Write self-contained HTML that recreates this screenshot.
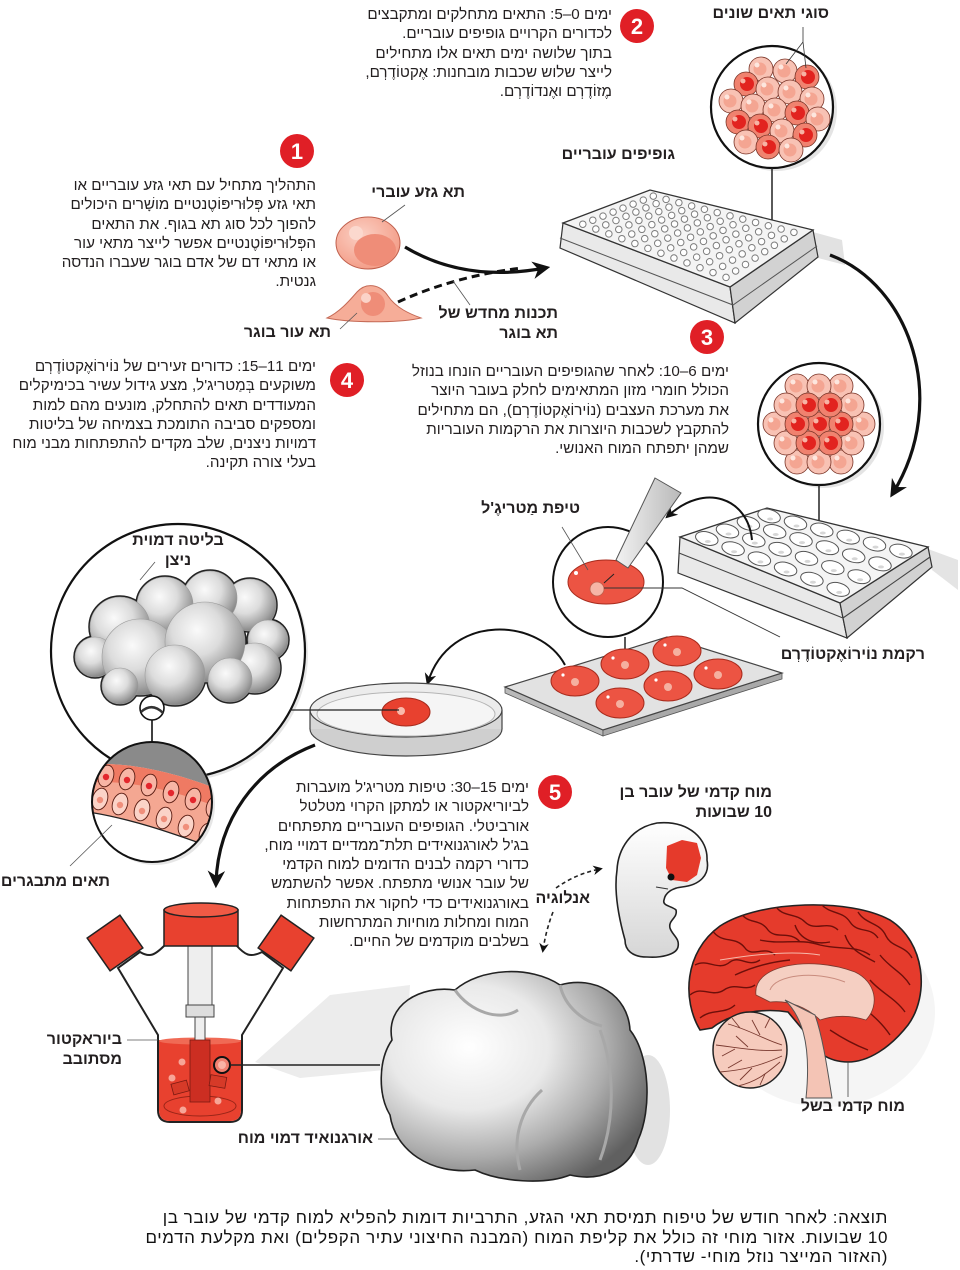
<!DOCTYPE html>
<html><head><meta charset="utf-8">
<style>
html,body{margin:0;padding:0;background:#fff}
#c{position:relative;width:960px;height:1270px;overflow:hidden;background:#fff}
svg{position:absolute;left:0;top:0}
.t{position:absolute;direction:rtl;text-align:right;white-space:nowrap;font-family:"Liberation Sans","DejaVu Sans",sans-serif;font-size:15.2px;line-height:19.3px;color:#231f20}
.l{position:absolute;direction:rtl;text-align:right;white-space:nowrap;font-family:"Liberation Sans","DejaVu Sans",sans-serif;font-size:16px;line-height:20px;font-weight:bold;color:#231f20}
</style></head><body><div id="c">
<svg width="960" height="1270" viewBox="0 0 960 1270" xmlns="http://www.w3.org/2000/svg">
<defs>
<marker id="ah" viewBox="0 0 10 10" refX="7" refY="5" markerWidth="5.5" markerHeight="5.5" orient="auto"><path d="M0,0 L10,5 L0,10 L3,5 Z" fill="#111"/></marker>
<marker id="ahs" viewBox="0 0 10 10" refX="7" refY="5" markerWidth="6" markerHeight="6" orient="auto"><path d="M0,0 L10,5 L0,10 L3,5 Z" fill="#111"/></marker>
<radialGradient id="gb" cx="40%" cy="35%" r="70%"><stop offset="0" stop-color="#fafafa"/><stop offset="0.45" stop-color="#dcdcdc"/><stop offset="0.8" stop-color="#a2a2a2"/><stop offset="1" stop-color="#7a7a7a"/></radialGradient>
<radialGradient id="go" cx="33%" cy="36%" r="75%"><stop offset="0" stop-color="#ffffff"/><stop offset="0.4" stop-color="#e9e9e9"/><stop offset="0.7" stop-color="#acacac"/><stop offset="1" stop-color="#606060"/></radialGradient>
<radialGradient id="gs" cx="40%" cy="35%" r="70%"><stop offset="0" stop-color="#fbd0c4"/><stop offset="1" stop-color="#f39a84"/></radialGradient>
<linearGradient id="gf" x1="0" y1="0" x2="0" y2="1"><stop offset="0" stop-color="#ffffff"/><stop offset="1" stop-color="#d6d6d6"/></linearGradient>
<linearGradient id="gpip" x1="0" y1="0" x2="1" y2="0"><stop offset="0" stop-color="#f2f2f2"/><stop offset="1" stop-color="#b9b9b9"/></linearGradient>
<g id="cp"><circle r="12" fill="#f8c2b4" stroke="#7a3427" stroke-width="0.8"/><circle cx="-1" cy="0" r="6.5" fill="#f4a592"/><circle cx="-4" cy="-4" r="2.5" fill="#fde6de"/></g>
<g id="cr"><circle r="12" fill="#f0826f" stroke="#7a3427" stroke-width="0.8"/><circle cx="1" cy="0" r="7" fill="#e2231f"/><circle cx="-3" cy="-3" r="2.5" fill="#f7b3a4"/></g>
<g id="w24"><ellipse rx="11.5" ry="6.5" transform="rotate(15)" fill="#fff" stroke="#555" stroke-width="1"/><ellipse cx="1" cy="3" rx="3" ry="1.5" fill="#d6d6d6"/></g>
<g id="disc"><ellipse rx="24" ry="15" fill="#ec5443" stroke="#a82b1d" stroke-width="1"/><circle cx="0" cy="1" r="4" fill="#f5b0a0"/><circle cx="-12" cy="-6" r="1.6" fill="#fff"/></g>
<clipPath id="mag"><circle cx="152" cy="802" r="60"/></clipPath>
<clipPath id="cort"><path d="M700 1030 C682 1000,684 952,720 926 C760 900,850 898,890 920 C925 942,930 995,908 1025 C890 1048,868 1062,848 1062 C828 1062,812 1050,808 1036 L788 1012 C765 1008,732 1012,712 1028 Z"/></clipPath>
</defs>

<!-- step circles -->
<g font-family="Liberation Sans, DejaVu Sans, sans-serif" font-weight="bold" font-size="22" fill="#fff" text-anchor="middle">
<circle cx="297" cy="151" r="17" fill="#e01f26"/><text x="297" y="159">1</text>
<circle cx="637" cy="26" r="17" fill="#e01f26"/><text x="637" y="34">2</text>
<circle cx="707" cy="337" r="17" fill="#e01f26"/><text x="707" y="345">3</text>
<circle cx="347" cy="380" r="17" fill="#e01f26"/><text x="347" y="388">4</text>
<circle cx="555" cy="792" r="17" fill="#e01f26"/><text x="555" y="800">5</text>
</g>

<!-- stem cell -->
<ellipse cx="368" cy="243" rx="32" ry="26" fill="url(#gs)" stroke="#c0604d" stroke-width="1"/>
<ellipse cx="375" cy="250" rx="21" ry="16" fill="#ef8d78"/>
<circle cx="356" cy="233" r="7" fill="#fbd8ce"/>
<line x1="405" y1="205" x2="382" y2="222" stroke="#555" stroke-width="0.8"/>
<!-- skin cell -->
<path d="M327 318 C340 312,350 300,357 292 C366 282,380 284,388 296 C396 308,410 314,421 318 C400 323,350 323,327 318 Z" fill="#f6ad98" stroke="#c56a56" stroke-width="1"/>
<circle cx="373" cy="304" r="12" fill="#ef8d78"/>
<circle cx="366" cy="298" r="5" fill="#fbd3c8"/>
<line x1="340" y1="329" x2="357" y2="313" stroke="#555" stroke-width="0.8"/>
<!-- arrows stem -> plate -->
<path d="M405 247 Q465 283 545 268" fill="none" stroke="#111" stroke-width="3.2" marker-end="url(#ah)"/>
<path d="M398 302 Q455 276 522 268" fill="none" stroke="#111" stroke-width="3" stroke-dasharray="8 5"/>
<line x1="470" y1="305" x2="453" y2="281" stroke="#555" stroke-width="0.8"/>

<!-- circle of cells 1 -->
<circle cx="776" cy="110" r="61" fill="#e4e4e4"/>
<circle cx="772" cy="107" r="61" fill="#fff" stroke="#111" stroke-width="2.2"/>
<use href="#cp" x="761" y="69"/><use href="#cp" x="785" y="71"/><use href="#cr" x="807" y="77"/>
<use href="#cr" x="746" y="84"/><use href="#cp" x="768" y="89"/><use href="#cp" x="790" y="92"/><use href="#cp" x="812" y="99"/>
<use href="#cp" x="731" y="101"/><use href="#cp" x="753" y="106"/><use href="#cp" x="775" y="110"/><use href="#cr" x="797" y="113"/><use href="#cp" x="818" y="119"/>
<use href="#cr" x="738" y="122"/><use href="#cr" x="760" y="126"/><use href="#cp" x="782" y="131"/><use href="#cr" x="805" y="135"/>
<use href="#cp" x="746" y="142"/><use href="#cr" x="768" y="147"/><use href="#cp" x="791" y="150"/>
<path d="M803 27 L803 42 L786 64 M803 42 L806 68" fill="none" stroke="#333" stroke-width="0.8"/>
<line x1="772" y1="168" x2="772" y2="222" stroke="#222" stroke-width="1.5"/>

<!-- 96 well plate -->
<polygon points="813,232 842,240 845,265 818,258" fill="#e2e2e2"/>
<polygon points="563,223 730,287 735,323 560,248" fill="#e9e9e9" stroke="#333" stroke-width="1.2"/>
<polygon points="730,287 813,230 818,257 735,323" fill="#d2d2d2" stroke="#333" stroke-width="1.2"/>
<polyline points="560,238 733,305 817,246" fill="none" stroke="#555" stroke-width="1"/>
<polygon points="563,223 650,190 813,230 730,287" fill="#f4f4f4" stroke="#333" stroke-width="1.3"/>
<g fill="none" stroke-linecap="round" stroke="#7d7d7d" stroke-width="7.5">
<path d="M582.8 224.2 L726.3 277.5" stroke-dasharray="0 13.89"/>
<path d="M592.8 220.2 L736.0 271.1" stroke-dasharray="0 13.78"/>
<path d="M603.0 216.1 L745.8 264.6" stroke-dasharray="0 13.68"/>
<path d="M613.1 212.1 L755.4 258.2" stroke-dasharray="0 13.57"/>
<path d="M623.0 208.1 L765.1 251.8" stroke-dasharray="0 13.48"/>
<path d="M633.1 204.1 L774.7 245.4" stroke-dasharray="0 13.38"/>
<path d="M643.3 200.1 L784.5 238.9" stroke-dasharray="0 13.29"/>
<path d="M653.3 196.1 L794.2 232.4" stroke-dasharray="0 13.20"/>
</g>
<g fill="none" stroke-linecap="round" stroke="#fff" stroke-width="5.5">
<path d="M582.8 224.2 L726.3 277.5" stroke-dasharray="0 13.89"/>
<path d="M592.8 220.2 L736.0 271.1" stroke-dasharray="0 13.78"/>
<path d="M603.0 216.1 L745.8 264.6" stroke-dasharray="0 13.68"/>
<path d="M613.1 212.1 L755.4 258.2" stroke-dasharray="0 13.57"/>
<path d="M623.0 208.1 L765.1 251.8" stroke-dasharray="0 13.48"/>
<path d="M633.1 204.1 L774.7 245.4" stroke-dasharray="0 13.38"/>
<path d="M643.3 200.1 L784.5 238.9" stroke-dasharray="0 13.29"/>
<path d="M653.3 196.1 L794.2 232.4" stroke-dasharray="0 13.20"/>
</g>

<!-- big arrow right -->
<path d="M830 255 C910 285,950 400,893 493" fill="none" stroke="#111" stroke-width="3.2" marker-end="url(#ah)"/>

<!-- circle of cells 2 -->
<circle cx="823" cy="427" r="61" fill="#e4e4e4"/>
<circle cx="819" cy="424" r="61" fill="#fff" stroke="#111" stroke-width="2.2"/>
<use href="#cp" x="863" y="424"/><use href="#cp" x="841" y="462"/><use href="#cp" x="797" y="462"/><use href="#cp" x="775" y="424"/><use href="#cp" x="797" y="386"/><use href="#cp" x="841" y="386"/>
<use href="#cp" x="852" y="443"/><use href="#cp" x="819" y="462"/><use href="#cp" x="786" y="443"/><use href="#cp" x="786" y="405"/><use href="#cp" x="819" y="386"/><use href="#cp" x="852" y="405"/>
<use href="#cr" x="819" y="424"/><use href="#cr" x="841" y="424"/><use href="#cr" x="830" y="443"/><use href="#cr" x="808" y="443"/><use href="#cr" x="797" y="424"/><use href="#cr" x="808" y="405"/><use href="#cr" x="830" y="405"/>
<line x1="819" y1="485" x2="819" y2="528" stroke="#222" stroke-width="1.5"/>

<!-- 24 well plate -->
<polygon points="928,549 958,560 958,590 932,570" fill="#e4e4e4"/>
<polygon points="680,537 840,603 847,638 678,573" fill="#e9e9e9" stroke="#333" stroke-width="1.2"/>
<polygon points="840,603 928,547 932,567 847,638" fill="#d2d2d2" stroke="#333" stroke-width="1.2"/>
<polyline points="679,553 843,618 930,557" fill="none" stroke="#444" stroke-width="1.1"/>
<polygon points="680,537 767,508 928,547 840,603" fill="#f4f4f4" stroke="#333" stroke-width="1.3"/>
<use href="#w24" x="706.8" y="538.5"/><use href="#w24" x="733.1" y="548.7"/><use href="#w24" x="759.4" y="558.9"/><use href="#w24" x="785.6" y="569"/><use href="#w24" x="811.9" y="579.2"/><use href="#w24" x="838.2" y="589.4"/>
<use href="#w24" x="727.5" y="531"/><use href="#w24" x="753.8" y="540.1"/><use href="#w24" x="780.1" y="549.3"/><use href="#w24" x="806.5" y="558.4"/><use href="#w24" x="832.8" y="567.6"/><use href="#w24" x="859.1" y="576.7"/>
<use href="#w24" x="748.4" y="523.4"/><use href="#w24" x="774.7" y="531.5"/><use href="#w24" x="801" y="539.6"/><use href="#w24" x="827.4" y="547.7"/><use href="#w24" x="853.7" y="555.8"/><use href="#w24" x="880" y="563.9"/>
<use href="#w24" x="769.1" y="516"/><use href="#w24" x="795.5" y="523"/><use href="#w24" x="821.8" y="530"/><use href="#w24" x="848.2" y="537.1"/><use href="#w24" x="874.5" y="544.1"/><use href="#w24" x="900.9" y="551.1"/>
<!-- arrow plate->pipette -->
<path d="M752 540 C748 498,705 482,668 516" fill="none" stroke="#111" stroke-width="2" marker-end="url(#ahs)"/>

<!-- droplet circle -->
<circle cx="608" cy="582" r="55" fill="#fff" stroke="#111" stroke-width="2"/>
<ellipse cx="606" cy="582" rx="38" ry="22" fill="#ec5443" stroke="#a82b1d" stroke-width="1"/>
<circle cx="597" cy="589" r="7" fill="#f6b5a6" stroke="#c0604d" stroke-width="0.8"/>
<circle cx="576" cy="573" r="2" fill="#fff"/>
<polygon points="655,478 681,493 628,568 616,560" fill="url(#gpip)" stroke="#555" stroke-width="1"/>
<line x1="614" y1="574" x2="604" y2="583" stroke="#222" stroke-width="1"/>
<line x1="562" y1="527" x2="588" y2="570" stroke="#555" stroke-width="0.8"/>
<polyline points="604,588 682,588 780,637" fill="none" stroke="#333" stroke-width="0.9"/>
<line x1="625" y1="637" x2="625" y2="658" stroke="#222" stroke-width="1.5"/>

<!-- tray with 6 discs -->
<polygon points="505,687 603,730 603,736 505,693" fill="#b9b9b9" stroke="#555" stroke-width="0.8"/>
<polygon points="603,730 782,673 782,679 603,736" fill="#a9a9a9" stroke="#555" stroke-width="0.8"/>
<polygon points="505,687 667,637 782,673 603,730" fill="#e2e2e2" stroke="#444" stroke-width="1.2"/>
<use href="#disc" x="575" y="681"/><use href="#disc" x="625" y="664"/><use href="#disc" x="677" y="651"/>
<use href="#disc" x="620" y="703"/><use href="#disc" x="668" y="686"/><use href="#disc" x="718" y="674"/>
<!-- arrow tray -> petri -->
<path d="M565 665 C540 618,450 612,428 682" fill="none" stroke="#111" stroke-width="2" marker-end="url(#ahs)"/>

<!-- big circle with bud -->
<circle cx="181" cy="654" r="127" fill="#e6e6e6"/>
<circle cx="178" cy="651" r="127" fill="#fff" stroke="#111" stroke-width="2.2"/>
<!-- outline pass -->
<g stroke="#222" stroke-width="3.5" fill="#a8a8a8">
<circle cx="250" cy="605" r="26"/><circle cx="210" cy="598" r="27"/><circle cx="165" cy="605" r="28"/><circle cx="120" cy="627" r="30"/><circle cx="268" cy="640" r="20"/><circle cx="95" cy="657" r="20"/><circle cx="255" cy="668" r="25"/><circle cx="140" cy="657" r="38"/><circle cx="205" cy="642" r="40"/><circle cx="175" cy="675" r="30"/><circle cx="230" cy="680" r="22"/><circle cx="120" cy="686" r="18"/>
</g>
<g fill="url(#gb)" stroke="#9a9a9a" stroke-width="0.6">
<circle cx="250" cy="605" r="26"/>
<circle cx="210" cy="598" r="27"/>
<circle cx="165" cy="605" r="28"/>
<circle cx="120" cy="627" r="30"/>
<circle cx="268" cy="640" r="20"/>
<circle cx="95" cy="657" r="20"/>
<circle cx="255" cy="668" r="25"/>
<circle cx="140" cy="657" r="38"/>
<circle cx="205" cy="642" r="40"/>
<circle cx="175" cy="675" r="30"/>
<circle cx="230" cy="680" r="22"/>
<circle cx="120" cy="686" r="18"/>
</g>
<line x1="155" y1="562" x2="140" y2="580" stroke="#555" stroke-width="0.8"/>
<circle cx="152" cy="708" r="12" fill="#fff" stroke="#111" stroke-width="1.6"/>
<path d="M141 712 Q152 702 163 713" fill="none" stroke="#333" stroke-width="2.5"/>
<line x1="152" y1="720" x2="152" y2="742" stroke="#111" stroke-width="1.6"/>

<!-- magnifier -->
<circle cx="155" cy="805" r="60" fill="#e6e6e6"/>
<g clip-path="url(#mag)">
<rect x="90" y="740" width="125" height="125" fill="#fff"/>
<path d="M85 735 L225 735 L225 792 C190 778,140 762,92 764 Z" fill="#8a8a8a"/>
<path d="M92 764 C140 762,190 778,225 792 L225 852 C190 840,140 820,88 812 Z" fill="#f4a792"/>
<path d="M92 764 C140 762,190 778,225 792 L225 810 C190 796,140 780,90 782 Z" fill="#ef7a63"/>
<g stroke="#5a1c12" stroke-width="0.9">
<ellipse cx="106" cy="776" rx="7.5" ry="11" transform="rotate(17 106 776)" fill="#f7b5a5"/>
<ellipse cx="127" cy="779" rx="7.5" ry="11" transform="rotate(17 127 779)" fill="#f7b5a5"/>
<ellipse cx="149" cy="785" rx="7.5" ry="11" transform="rotate(17 149 785)" fill="#f7b5a5"/>
<ellipse cx="171" cy="792" rx="7.5" ry="11" transform="rotate(17 171 792)" fill="#f7b5a5"/>
<ellipse cx="193" cy="799" rx="7.5" ry="11" transform="rotate(17 193 799)" fill="#f7b5a5"/>
<ellipse cx="214" cy="807" rx="7.5" ry="11" transform="rotate(17 214 807)" fill="#f7b5a5"/>
<ellipse cx="100" cy="799" rx="7.5" ry="11" transform="rotate(17 100 799)" fill="#fbd3c7"/>
<ellipse cx="120" cy="804" rx="7.5" ry="11" transform="rotate(17 120 804)" fill="#fbd3c7"/>
<ellipse cx="142" cy="810" rx="7.5" ry="11" transform="rotate(17 142 810)" fill="#fbd3c7"/>
<ellipse cx="164" cy="818" rx="7.5" ry="11" transform="rotate(17 164 818)" fill="#fbd3c7"/>
<ellipse cx="186" cy="826" rx="7.5" ry="11" transform="rotate(17 186 826)" fill="#fbd3c7"/>
<ellipse cx="207" cy="834" rx="7.5" ry="11" transform="rotate(17 207 834)" fill="#fbd3c7"/>
</g>
<g fill="#e3262d">
<circle cx="106" cy="777" r="3.2"/><circle cx="127" cy="780" r="3.2"/><circle cx="149" cy="786" r="3.2"/><circle cx="171" cy="793" r="3.2"/><circle cx="193" cy="800" r="3.2"/><circle cx="214" cy="808" r="3.2"/>
</g>
<g fill="#f08f7b">
<circle cx="100" cy="800" r="3.2"/><circle cx="120" cy="805" r="3.2"/><circle cx="142" cy="811" r="3.2"/><circle cx="164" cy="819" r="3.2"/><circle cx="186" cy="827" r="3.2"/><circle cx="207" cy="835" r="3.2"/>
</g>
<path d="M88 812 C140 820,190 840,225 852" fill="none" stroke="#222" stroke-width="1.3"/>
</g>
<circle cx="152" cy="802" r="60" fill="none" stroke="#111" stroke-width="2"/>
<line x1="70" y1="866" x2="112" y2="825" stroke="#555" stroke-width="0.8"/>

<!-- petri dish -->
<ellipse cx="406" cy="729" rx="96" ry="27" fill="#cfcfcf" stroke="#444" stroke-width="1.2"/>
<rect x="310" y="710" width="192" height="19" fill="#d8d8d8"/>
<line x1="310" y1="710" x2="310" y2="729" stroke="#444" stroke-width="1.2"/>
<line x1="502" y1="710" x2="502" y2="729" stroke="#444" stroke-width="1.2"/>
<ellipse cx="406" cy="710" rx="96" ry="27" fill="#ececec" stroke="#444" stroke-width="1.2"/>
<ellipse cx="406" cy="714" rx="89" ry="22" fill="#f5f5f5" stroke="#b5b5b5" stroke-width="1"/>
<ellipse cx="406" cy="712" rx="24" ry="14" fill="#e8412f" stroke="#a52a1c" stroke-width="1"/>
<circle cx="401" cy="711" r="4" fill="#f9b9ab"/>
<line x1="290" y1="710" x2="399" y2="710" stroke="#222" stroke-width="1.3"/>

<!-- arrow to bioreactor -->
<path d="M315 745 C255 768,218 820,216 883" fill="none" stroke="#111" stroke-width="3.2" marker-end="url(#ah)"/>

<!-- shadow behind organoid -->
<path d="M255 1062 L330 995 L410 985 L405 1068 L300 1078 Z" fill="#ececec"/>
<ellipse cx="648" cy="1110" rx="22" ry="55" fill="#e2e2e2"/>

<!-- bioreactor -->
<path d="M118 968 L158 1035 L158 1110 Q158 1122 170 1122 L230 1122 Q242 1122 242 1110 L242 1035 L283 968 L262 952 C250 958,245 955,236 945 L165 945 C155 955,150 958,140 952 Z" fill="#fff" stroke="#222" stroke-width="2"/>
<path d="M159 1040 L241 1040 L241 1110 Q241 1121 230 1121 L170 1121 Q159 1121 159 1110 Z" fill="#e8412f"/>
<ellipse cx="200" cy="1041" rx="41" ry="3.5" fill="#f06a55"/>
<ellipse cx="200" cy="1106" rx="36" ry="10" fill="none" stroke="#9a2518" stroke-width="1"/>
<rect x="188" y="946" width="24" height="60" fill="#eeeeee" stroke="#444" stroke-width="1"/>
<rect x="186" y="1005" width="28" height="12" fill="#dddddd" stroke="#444" stroke-width="1"/>
<rect x="195" y="1017" width="10" height="25" fill="#eeeeee" stroke="#444" stroke-width="1"/>
<rect x="190" y="1040" width="20" height="62" fill="#cc2e22" stroke="#7a1a12" stroke-width="0.8"/>
<rect x="172" y="1082" width="16" height="11" transform="rotate(-15 180 1087)" fill="#d63a28" stroke="#7a1a12" stroke-width="0.8"/>
<rect x="210" y="1076" width="16" height="11" transform="rotate(10 218 1081)" fill="#d63a28" stroke="#7a1a12" stroke-width="0.8"/>
<g fill="#f7a597"><circle cx="182" cy="1062" r="3.5"/><circle cx="172" cy="1078" r="3.5"/><circle cx="183" cy="1110" r="3.5"/><circle cx="218" cy="1101" r="3.5"/></g>
<rect x="95" y="923" width="40" height="40" transform="rotate(-35 115 943)" fill="#e8412f" stroke="#222" stroke-width="1.5"/>
<rect x="266" y="923" width="40" height="40" transform="rotate(35 286 943)" fill="#e8412f" stroke="#222" stroke-width="1.5"/>
<rect x="164" y="910" width="74" height="36" fill="#e8412f" stroke="#222" stroke-width="1.5"/>
<ellipse cx="201" cy="910" rx="37" ry="7" fill="#f05a45" stroke="#222" stroke-width="1.5"/>
<circle cx="222" cy="1065" r="8" fill="#f08070" stroke="#111" stroke-width="2"/>
<circle cx="222" cy="1065" r="4" fill="#f9b3a5"/>
<line x1="230" y1="1065" x2="380" y2="1065" stroke="#222" stroke-width="1.4"/>
<line x1="127" y1="1040" x2="158" y2="1040" stroke="#555" stroke-width="0.8"/>

<!-- organoid -->
<path d="M392 1040 C385 1005,420 985,455 990 C480 968,530 965,560 985 C595 975,628 995,630 1030 C650 1055,652 1110,638 1140 C630 1170,600 1182,570 1175 C545 1185,500 1182,475 1170 C430 1175,395 1150,390 1115 C378 1095,378 1060,392 1040 Z" fill="url(#go)" stroke="#222" stroke-width="1.6"/>
<path d="M455 990 C470 1012,500 1022,518 1010 M560 985 C565 1008,585 1022,602 1026 M520 1170 C512 1140,520 1110,542 1090 M600 1030 C615 1070,615 1120,600 1160" fill="none" stroke="#a8a8a8" stroke-width="3"/>
<line x1="378" y1="1139" x2="400" y2="1139" stroke="#555" stroke-width="0.8"/>

<!-- analogy dashed arrows -->
<path d="M556 888 C570 878,585 872,600 869" fill="none" stroke="#222" stroke-width="1.6" stroke-dasharray="4 3" marker-end="url(#ahs)"/>
<path d="M553 912 Q546 930 543 950" fill="none" stroke="#222" stroke-width="1.6" stroke-dasharray="4 3" marker-end="url(#ahs)"/>

<!-- fetus -->
<path d="M657 823 C690 820,708 840,707 860 C710 875,700 885,682 887 C672 888,665 893,664 900 C662 906,672 906,676 910 C678 918,668 920,670 928 C672 935,680 938,678 947 C676 955,660 958,647 957 C632 957,625 950,625 940 C618 915,614 890,617 870 C618 850,630 828,657 823 Z" fill="url(#gf)" stroke="#222" stroke-width="1.6"/>
<path d="M667 846 L682 840 L697 843 L701 858 L697 875 L687 882 L672 880 L666 868 Z" fill="#e53a2b"/>
<circle cx="671" cy="877" r="3.5" fill="#111"/>
<path d="M656 887 L668 889" stroke="#333" stroke-width="1"/>

<!-- brain -->
<ellipse cx="825" cy="1012" rx="110" ry="95" fill="#efefef" opacity="0.6"/>
<path d="M700 1030 C682 1000,684 952,720 926 C760 900,850 898,890 920 C925 942,930 995,908 1025 C890 1048,868 1062,848 1062 C828 1062,812 1050,808 1036 L788 1012 C765 1008,732 1012,712 1028 Z" fill="#e53b2c" stroke="#222" stroke-width="1.6"/>
<g fill="none" stroke="#6e0f0a" stroke-width="1.4" clip-path="url(#cort)">
<path d="M712 930 C722 945,735 935,745 948 C752 958,765 945,775 955"/>
<path d="M740 912 C748 925,760 918,768 930 C776 940,790 930,800 942"/>
<path d="M775 905 C782 918,795 912,805 922 C815 932,828 920,838 930"/>
<path d="M820 903 C830 915,842 910,850 922 C858 934,870 926,878 938"/>
<path d="M858 912 C866 925,880 922,886 936 C892 948,905 945,912 958"/>
<path d="M695 965 C708 958,718 972,730 962 C740 955,748 968,760 960"/>
<path d="M690 995 C702 985,712 998,724 990 C735 982,745 992,755 985"/>
<path d="M700 1018 C712 1008,724 1015,735 1005"/>
<path d="M880 955 C890 968,902 972,910 985"/>
<path d="M870 980 C880 992,895 998,905 1012"/>
<path d="M855 1000 C868 1012,880 1020,890 1035"/>
<path d="M830 1030 C842 1038,855 1045,868 1050"/>
<path d="M760 940 C780 945,800 938,820 945 C840 950,855 945,870 955"/>
<path d="M735 975 C750 968,770 962,790 960"/>
<path d="M795 925 C800 940,815 945,830 942"/>
<path d="M845 935 C850 950,862 955,875 962"/>
</g>
<path d="M720 960 C750 955,790 950,820 955" fill="none" stroke="#f7b8aa" stroke-width="1"/>
<path d="M756 995 C752 965,810 955,855 972 C876 982,880 1005,866 1020 C850 1015,835 1015,820 1020 C808 1008,790 1000,770 1002 Z" fill="#f5cfc2" stroke="#7a3a30" stroke-width="0.8"/>
<path d="M770 990 C775 975,815 970,845 982" fill="none" stroke="#c98c7e" stroke-width="1"/>
<path d="M785 1000 C800 1015,812 1040,806 1098 L832 1098 C826 1060,822 1035,815 1015 Z" fill="#f4c4b5" stroke="#555" stroke-width="1"/>
<ellipse cx="750" cy="1050" rx="37" ry="38" fill="#f6cbbd" stroke="#222" stroke-width="1.5"/>
<g fill="none" stroke="#7a3a30" stroke-width="0.9">
<path d="M782 1045 C765 1040,750 1030,728 1024"/>
<path d="M782 1050 C760 1052,740 1048,716 1045"/>
<path d="M782 1056 C762 1065,745 1070,720 1072"/>
<path d="M780 1062 C765 1075,755 1082,738 1086"/>
<path d="M760 1035 L752 1020 M748 1047 L736 1036 M752 1068 L740 1080 M740 1028 L732 1018 M735 1049 L722 1056 M742 1060 L728 1068 M765 1074 L760 1085 M765 1028 L770 1018"/>
</g>
<line x1="848" y1="1062" x2="848" y2="1097" stroke="#444" stroke-width="0.8"/>
</svg>

<!-- text blocks -->
<div class="t" style="right:348px;top:5px">ימים 0–5: התאים מתחלקים ומתקבצים<br>לכדורים הקרויים גופיפים עובריים.<br>בתוך שלושה ימים תאים אלו מתחילים<br>לייצר שלוש שכבות מובחנות: אֶקטוֹדֶרְם,<br>מֶזוֹדֶרְם ואֶנדוֹדֶרְם.</div>

<div class="t" style="right:644px;top:176px">התהליך מתחיל עם תאי גזע עובריים או<br>תאי גזע פְּלוּריפּוֹטֶנטיים מושָׁרים היכולים<br>להפוך לכל סוג תא בגוף. את התאים<br>הפְּלוּריפּוֹטֶנטיים אפשר לייצר מתאי עור<br>או מתאי דם של אדם בוגר שעברו הנדסה<br>גנטית.</div>

<div class="t" style="right:644px;top:357px">ימים 11–15: כדורים זעירים של נוֹירוֹאֶקטוֹדֶרְם<br>משוקעים בְּמַטריג'ל, מצע גידול עשיר בכימיקלים<br>המעודדים תאים להתחלק, מונעים מהם למות<br>ומספקים סביבה התומכת בצמיחה של בליטות<br>דמויות ניצנים, שלב מקדים להתפתחות מבני מוח<br>בעלי צורה תקינה.</div>

<div class="t" style="right:231px;top:362px">ימים 6–10: לאחר שהגופיפים העובריים הונחו בנוזל<br>הכולל חומרי מזון המתאימים לחלק בעובר היוצר<br>את מערכת העצבים (נוֹירוֹאֶקטוֹדֶרְם), הם מתחילים<br>להתקבץ לשכבות היוצרות את הרקמות העובריות<br>שמהן יתפתח המוח האנושי.</div>

<div class="t" style="right:431px;top:778px">ימים 15–30: טיפות מטריג'ל מועברות<br>לביוריאקטור או למתקן הקרוי מטלטל<br>אורביטלי. הגופיפים העובריים מתפתחים<br>בג'ל לאורגנואידים תלת־ממדיים דמויי מוח,<br>כדורי רקמה לבנים הדומים למוח הקדמי<br>של עובר אנושי מתפתח. אפשר להשתמש<br>באורגנואידים כדי לחקור את התפתחות<br>המוח ומחלות מוחיות המתרחשות<br>בשלבים מוקדמים של החיים.</div>

<div class="t" style="right:72px;top:1208px;font-size:17px;line-height:19.5px;letter-spacing:0.6px;color:#111">תוצאה: לאחר חודש של טיפוח תמיסת תאי הגזע, התרביות דומות להפליא למוח קדמי של עובר בן<br>10 שבועות. אזור מוחי זה כולל את קליפת המוח (המבנה החיצוני עתיר הקפלים) ואת מקלעת הדמים<br>(האזור המייצר נוזל מוחי- שדרתי).</div>

<!-- labels -->
<div class="l" style="right:131px;top:4px">סוגי תאים שונים</div>
<div class="l" style="right:285px;top:145px">גופיפים עובריים</div>
<div class="l" style="right:495px;top:183px">תא גזע עוברי</div>
<div class="l" style="right:629px;top:323px">תא עור בוגר</div>
<div class="l" style="right:402px;top:304px">תכנות מחדש של<br>תא בוגר</div>
<div class="l" style="right:380px;top:499px">טיפת מַטריגֶ'ל</div>
<div class="l" style="left:98px;width:160px;top:531px;text-align:center">בליטה דמוית<br>ניצן</div>
<div class="l" style="right:35px;top:645px">רקמת נוֹירוֹאֶקטוֹדֶרְם</div>
<div class="l" style="right:850px;top:872px">תאים מתבגרים</div>
<div class="l" style="right:188px;top:783px">מוח קדמי של עובר בן<br>10 שבועות</div>
<div class="l" style="right:370px;top:889px">אנלוגיה</div>
<div class="l" style="right:838px;top:1030px">ביוראקטור<br>מסתובב</div>
<div class="l" style="right:587px;top:1129px">אורגנואיד דמוי מוח</div>
<div class="l" style="right:55px;top:1097px">מוח קדמי בשל</div>
</div></body></html>
